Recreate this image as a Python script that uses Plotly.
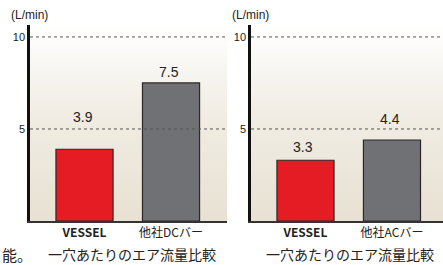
import plotly.graph_objects as go

# ---- data ----
categories_left = ["<b>VESSEL</b>", "他社DCバー"]
values_left = [3.9, 7.5]
categories_right = ["<b>VESSEL</b>", "他社ACバー"]
values_right = [3.3, 4.4]
y_ticks = [5, 10]
unit_label = "(L/min)"
caption = "一穴あたりのエア流量比較"
fragment = "能。"

# ---- styling (positions in pixels, not data) ----
label_shift_left = [32, 11]
label_shift_right = [13, 21]
bar_colors = ["#e61c24", "#707174"]
W, H = 443, 265
YMAX = 10.65


def px_x(p):
    return p / W


def px_y(p):
    return 1 - p / H


fig = go.Figure()

panels = [
    dict(cats=categories_left, vals=values_left, shifts=label_shift_left,
         bg=("x", "y"), fg=("x3", "y3"), dom=[px_x(30), px_x(227)], rng=[-0.63, 1.647],
         unit_x=9),
    dict(cats=categories_right, vals=values_right, shifts=label_shift_right,
         bg=("x2", "y2"), fg=("x4", "y4"), dom=[px_x(251), 1.0], rng=[-0.63, 1.59],
         unit_x=230),
]

ydom = [px_y(221), px_y(25)]

for p in panels:
    bx, by = p["bg"]
    fx, fy = p["fg"]
    # gradient background (on the base axes, beneath the overlaid bar axes)
    fig.add_trace(go.Scatter(
        x=[p["rng"][0], p["rng"][1], p["rng"][1], p["rng"][0], p["rng"][0]],
        y=[0, 0, YMAX, YMAX, 0],
        fill="toself", mode="none", hoverinfo="skip", showlegend=False,
        fillgradient=dict(type="vertical",
                          colorscale=[[0, "#e8e1d3"], [0.55, "#f1ede4"], [1, "#ffffff"]]),
        xaxis=bx, yaxis=by))
    fig.add_trace(go.Bar(
        x=[0, 1], y=p["vals"], width=0.66,
        marker=dict(color=bar_colors, line=dict(color="#2e2626", width=1.2)),
        showlegend=False, hoverinfo="skip",
        xaxis=fx, yaxis=fy))
    for j, v in enumerate(p["vals"]):
        fig.add_annotation(x=j, y=v, text=f"{v}", showarrow=False,
                           xref=fx, yref=fy, yanchor="middle",
                           yshift=p["shifts"][j], xshift=-2,
                           font=dict(family="Liberation Sans, Arial", size=14, color="#222"))
    # dotted gridlines (drawn over bars, as in the reference)
    for t in y_ticks:
        fig.add_shape(type="line", xref=f"{fx} domain", yref=fy,
                      x0=0, x1=1, y0=t, y1=t,
                      line=dict(color="#555", width=1, dash="dot"), layer="above")
    # unit label
    fig.add_annotation(x=px_x(p["unit_x"]), y=px_y(15), xref="paper", yref="paper",
                       text=unit_label, showarrow=False, xanchor="left", yanchor="middle",
                       font=dict(family="Liberation Sans, Arial", size=12, color="#222"))
    # caption
    fig.add_annotation(x=(p["dom"][0] + p["dom"][1]) / 2 + px_x(3), y=px_y(254),
                       xref="paper", yref="paper", text=caption, showarrow=False,
                       xanchor="center", yanchor="middle",
                       font=dict(family="Noto Sans CJK JP", size=14, color="#222"))

fig.add_annotation(x=0, y=px_y(254), xref="paper", yref="paper", text=fragment,
                   showarrow=False, xanchor="left", yanchor="middle",
                   font=dict(family="Noto Sans CJK JP", size=15, color="#222"))

axis_common = dict(showgrid=False, zeroline=False, ticks="", fixedrange=True)
for k, p in enumerate(panels):
    bsfx = p["bg"][0][1:]
    fsfx = p["fg"][0][1:]
    fig.update_layout(**{
        f"xaxis{bsfx}": dict(domain=p["dom"], range=p["rng"], showticklabels=False,
                            showline=False, anchor=f"y{bsfx}", **axis_common),
        f"yaxis{bsfx}": dict(domain=ydom, range=[0, YMAX], showticklabels=False,
                            showline=False, anchor=f"x{bsfx}", **axis_common),
        f"xaxis{fsfx}": dict(overlaying=f"x{bsfx}", range=p["rng"], tickmode="array",
                            tickvals=[0, 1], ticktext=p["cats"],
                            showline=True, linecolor="#333", linewidth=2,
                            tickfont=dict(family="Noto Sans CJK JP", size=12, color="#222"),
                            anchor=f"y{fsfx}", **axis_common),
        f"yaxis{fsfx}": dict(overlaying=f"y{bsfx}", range=[0, YMAX], tickmode="array",
                            tickvals=y_ticks, ticktext=[str(t) for t in y_ticks],
                            showline=True, linecolor="#111", linewidth=2.5,
                            tickfont=dict(family="Liberation Sans, Arial", size=11, color="#222"),
                            anchor=f"x{fsfx}", **axis_common),
    })

fig.update_layout(width=W, height=H, margin=dict(l=0, r=0, t=0, b=0),
                  paper_bgcolor="white", plot_bgcolor="rgba(0,0,0,0)")

fig.write_html("out.html", config={"displayModeBar": False},
               post_script="document.body.style.margin='0';document.body.style.overflow='hidden';")
